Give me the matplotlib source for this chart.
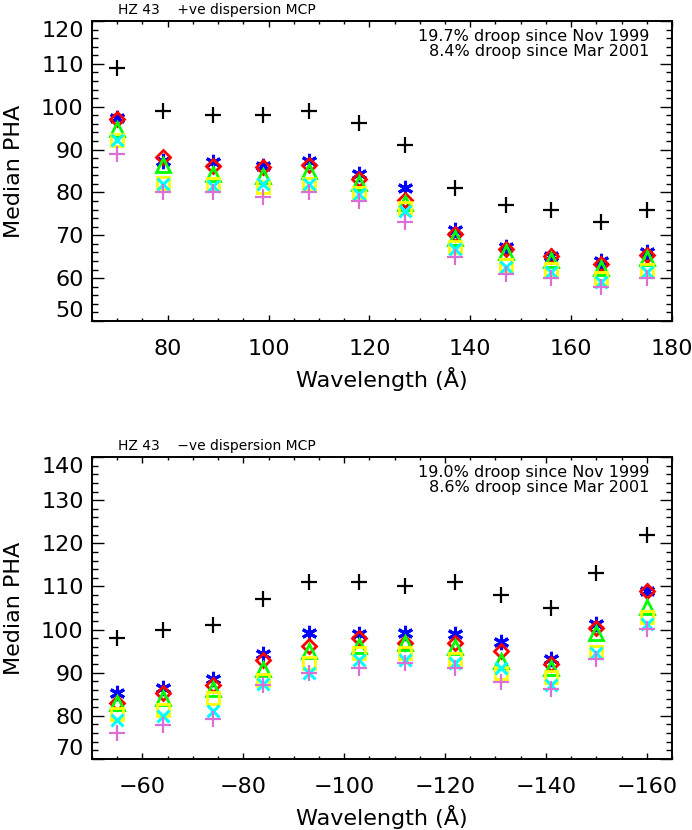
import matplotlib
matplotlib.use("Agg")
import matplotlib.pyplot as plt
from matplotlib.ticker import MultipleLocator

W, H = 6.92, 8.30

# --- data ---
wave_pos = [70, 79, 89, 99, 108, 118, 127, 137, 147, 156, 166, 175]
pos_black   = [109, 99, 98, 98, 99, 96.3, 91, 81, 77, 76, 73.2, 76]
pos_blue    = [97.3, 87.4, 87.2, 86.2, 87.3, 84.4, 81.1, 71.3, 67.2, 65.2, 64.1, 66.1]
pos_red     = [97.1, 88.2, 86.2, 86.0, 86.3, 83.2, 78.2, 70.2, 66.7, 65.2, 63.3, 65.4]
pos_green   = [94.8, 86.4, 84.3, 83.8, 85.0, 82.3, 77.5, 69.3, 66.0, 64.2, 62.3, 64.6]
pos_yellow  = [92.2, 82.1, 82.0, 81.3, 82.0, 79.8, 76.3, 67.2, 63.1, 62.1, 60.0, 61.9]
pos_cyan    = [92.2, 82.0, 81.5, 82.0, 82.0, 79.6, 75.7, 66.7, 62.7, 61.5, 59.2, 61.5]
pos_magenta = [89.0, 80.0, 80.0, 79.0, 80.0, 78.0, 73.2, 65.0, 60.9, 60.1, 58.0, 60.0]

wave_neg = [-55, -64, -74, -84, -93, -103, -112, -122, -131, -141, -150, -160]
neg_black   = [98.0, 100.0, 101.0, 107.0, 111.0, 111.0, 110.0, 111.0, 108.0, 105.0, 113.0, 122.0]
neg_blue    = [85.2, 86.4, 88.5, 94.3, 99.1, 99.0, 99.1, 99.0, 97.2, 93.1, 101.3, 109.0]
neg_red     = [83.0, 85.2, 87.1, 93.0, 96.2, 98.0, 97.0, 97.0, 95.0, 92.0, 100.3, 109.0]
neg_green   = [83.0, 84.1, 86.2, 90.8, 95.1, 96.3, 96.8, 95.9, 92.8, 91.0, 99.1, 105.2]
neg_yellow  = [80.4, 81.4, 84.1, 88.3, 92.2, 94.5, 94.5, 93.1, 90.0, 89.1, 94.9, 103.0]
neg_cyan    = [79.0, 80.0, 81.2, 87.5, 90.0, 93.0, 93.0, 92.2, 91.0, 87.1, 94.5, 101.3]
neg_magenta = [76.1, 77.9, 79.2, 87.1, 89.9, 91.0, 92.2, 91.0, 87.9, 86.2, 93.1, 100.1]

pos_notes = ["19.7% droop since Nov 1999", "8.4% droop since Mar 2001"]
neg_notes = ["19.0% droop since Nov 1999", "8.6% droop since Mar 2001"]

# symbol styles, in plotting order (earliest epoch first)
STYLES = [
    dict(marker="+", color="black", ms=11, mew=1.6),
    dict(marker=(6, 2, 0), color="#0000ff", ms=11, mew=2.2),
    dict(marker="D", color="#ff0000", ms=7.5, mew=2.0, mfc="none"),
    dict(marker="^", color="#00ff00", ms=10, mew=2.0, mfc="none"),
    dict(marker="s", color="#ffff00", ms=8.5, mew=2.0, mfc="none"),
    dict(marker="x", color="#00ffff", ms=9, mew=2.2),
    dict(marker="+", color="#da70d6", ms=11, mew=1.6),
]

TICK_FS = 16


def panel(ax, x, series, xlim, ylim, title, notes):
    for y, st in zip(series, STYLES):
        ax.plot(x, y, ls="none", **st)
    ax.set_xlim(*xlim)
    ax.set_ylim(*ylim)
    ax.xaxis.set_major_locator(MultipleLocator(20))
    ax.xaxis.set_minor_locator(MultipleLocator(5))
    ax.yaxis.set_major_locator(MultipleLocator(10))
    ax.yaxis.set_minor_locator(MultipleLocator(2))
    ax.tick_params(which="both", direction="in", top=True, right=True,
                   width=1, labelsize=TICK_FS, color="black")
    ax.tick_params(axis="x", which="major", length=4.3, pad=13)
    ax.tick_params(axis="x", which="minor", length=2.2)
    ax.tick_params(axis="y", which="major", length=8.5, pad=6)
    ax.tick_params(axis="y", which="minor", length=4.3)
    for s in ax.spines.values():
        s.set_linewidth(1.4)

    # IDL keeps the end labels of the y axis inside the box
    fig.canvas.draw()
    lo, hi = ylim
    for t, v in zip(ax.get_yticklabels(), ax.get_yticks()):
        if abs(v - lo) < 1e-6:
            t.set_va("bottom")
        elif abs(v - hi) < 1e-6:
            t.set_va("top")

    ax.set_xlabel("Wavelength (Å)", fontsize=TICK_FS, labelpad=6)
    ax.set_ylabel("Median PHA", fontsize=TICK_FS, labelpad=12)
    ax.text(0.045, 1.012, title, transform=ax.transAxes, fontsize=10,
            ha="left", va="bottom")
    ax.text(0.961, 0.975, "\n".join(notes), transform=ax.transAxes,
            fontsize=11.5, ha="right", va="top", multialignment="right",
            linespacing=1.05)


fig = plt.figure(figsize=(W, H), dpi=100, facecolor="white")
ax1 = fig.add_axes([92 / 692, 1 - 321 / 830, 580 / 692, 300 / 830])
ax2 = fig.add_axes([92 / 692, 1 - 759 / 830, 580 / 692, 302 / 830])

panel(ax1, wave_pos,
      [pos_black, pos_blue, pos_red, pos_green, pos_yellow, pos_cyan, pos_magenta],
      (65, 180), (50, 120), "HZ 43    +ve dispersion MCP", pos_notes)
panel(ax2, wave_neg,
      [neg_black, neg_blue, neg_red, neg_green, neg_yellow, neg_cyan, neg_magenta],
      (-50, -165), (70, 140), "HZ 43    \u2212ve dispersion MCP", neg_notes)

fig.savefig("out.png", dpi=100, facecolor="white")
